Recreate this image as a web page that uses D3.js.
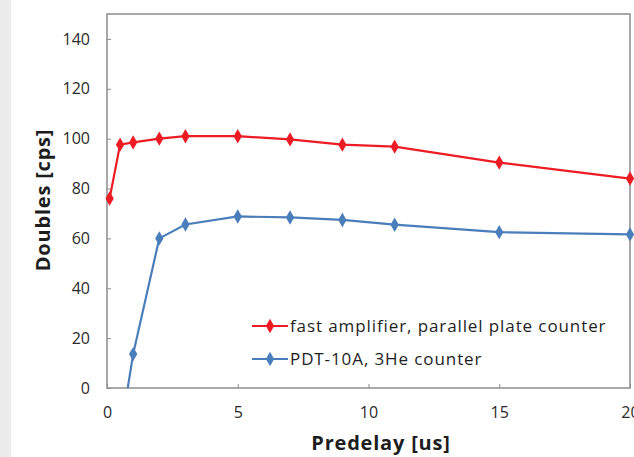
<html>
<head>
  <script src="https://d3js.org/d3.v7.min.js"></script>
  <style>
    body { margin: 0; background: #fff; }
    text { font-family: "Open Sans", "DejaVu Sans", sans-serif; fill: #1e1e1e; }
    .frame { fill: none; stroke: #8c8c8c; stroke-width: 1.5px; }
    .tick line { stroke: #8c8c8c; }
    .tick text { font-size: 16px; fill: #2a2a2a; }
    .title { font-size: 20px; font-weight: bold; letter-spacing: 0.8px; }
    .legend text { font-size: 17px; letter-spacing: 0.9px; }
  </style>
</head>
<body>
  <svg id="chart" width="634" height="457"></svg>
  <script>
    // predelay values (us) and doubles rates (cps)
    const fastX = [0.1, 0.5, 1, 2, 3, 5, 7, 9, 11, 15, 20];
    const fastY = [76, 97.6, 98.5, 100, 101, 101, 99.7, 97.6, 96.8, 90.4, 84];
    const pdtX = [0.5, 1, 2, 3, 5, 7, 9, 11, 15, 20];
    const pdtY = [-19.3, 13.6, 60, 65.6, 68.8, 68.4, 67.4, 65.5, 62.5, 61.6];
    const seriesNames = ["fast amplifier, parallel plate counter", "PDT-10A, 3He counter"];
    const seriesColors = ["#ed1c24", "#4a7ebb"];
    const xTicks = [0, 5, 10, 15, 20];
    const yTicks = [0, 20, 40, 60, 80, 100, 120, 140];

    const svg = d3.select("#chart");
    const margin = {top: 14, right: 4, bottom: 69, left: 107};
    const w = 634 - margin.left - margin.right;
    const h = 457 - margin.top - margin.bottom;

    // faint grey strip at the left edge
    svg.append("rect").attr("x", 0).attr("y", 0).attr("width", 11).attr("height", 457).attr("fill", "#ececec");

    const g = svg.append("g").attr("transform", "translate(" + margin.left + "," + margin.top + ")");

    const x = d3.scaleLinear().domain([0, 20]).range([0, w]);
    const y = d3.scaleLinear().domain([0, 150]).range([h, 0]);

    g.append("defs").append("clipPath").attr("id", "clip")
      .append("rect").attr("x", -6).attr("y", -6).attr("width", w + 12).attr("height", h + 6);

    g.append("g").attr("transform", "translate(0," + h + ")")
      .call(d3.axisBottom(x).tickValues(xTicks).tickSize(-4).tickPadding(19))
      .call(a => a.select(".domain").remove());
    g.append("g")
      .call(d3.axisLeft(y).tickValues(yTicks).tickSize(-4).tickPadding(17))
      .call(a => a.select(".domain").remove());

    g.append("rect").attr("class", "frame").attr("width", w).attr("height", h);

    const series = [
      fastX.map((v, i) => [v, fastY[i]]),
      pdtX.map((v, i) => [v, pdtY[i]])
    ];
    const line = d3.line().x(d => x(d[0])).y(d => y(d[1]));
    const diamond = d3.symbol().type(d3.symbolDiamond).size(60);

    const plot = g.append("g").attr("clip-path", "url(#clip)");
    series.forEach((s, k) => {
      plot.append("path").datum(s).attr("d", line)
        .attr("fill", "none").attr("stroke", seriesColors[k]).attr("stroke-width", 2.2);
      plot.selectAll(".m" + k).data(s.filter(d => d[1] >= 0)).enter()
        .append("path").attr("class", "m" + k)
        .attr("transform", d => "translate(" + x(d[0]) + "," + y(d[1]) + ")")
        .attr("d", diamond).attr("fill", seriesColors[k]);
    });

    // legend
    const legend = g.append("g").attr("class", "legend");
    seriesNames.forEach((name, k) => {
      const ly = 326 - margin.top + k * 33;
      legend.append("line").attr("x1", 145).attr("x2", 181).attr("y1", ly).attr("y2", ly)
        .attr("stroke", seriesColors[k]).attr("stroke-width", 2.2);
      legend.append("path").attr("transform", "translate(163," + ly + ")")
        .attr("d", diamond).attr("fill", seriesColors[k]);
      legend.append("text").attr("x", 183).attr("y", ly).attr("dy", "0.35em").text(name);
    });

    svg.append("text").attr("class", "title").attr("text-anchor", "middle")
      .attr("x", 381).attr("y", 450).text("Predelay [us]");
    svg.append("text").attr("class", "title").attr("text-anchor", "middle")
      .attr("transform", "translate(50,200) rotate(-90)")
      .text("Doubles [cps]");
  </script>
</body>
</html>
